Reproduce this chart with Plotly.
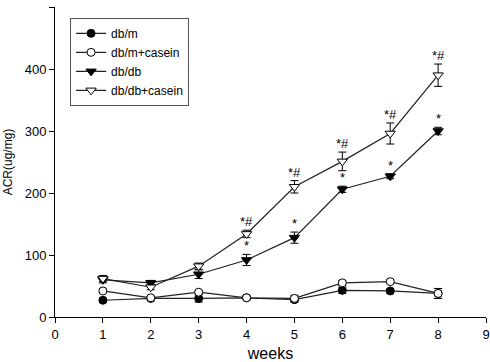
import plotly.graph_objects as go

weeks = [1, 2, 3, 4, 5, 6, 7, 8]
dbm = [27, 30, 30, 31, 28, 43, 42, 38]
dbm_err = [3, 2, 6, 3, 4, 5, 3, 8]
dbm_casein = [42, 31, 40, 31, 30, 55, 57, 38]
dbm_casein_err = [3, 2, 3, 2, 5, 4, 3, 8]
dbdb = [60, 55, 69, 92, 128, 206, 227, 300]
dbdb_err = [5, 4, 7, 9, 9, 5, 4, 6]
dbdb_casein = [62, 48, 82, 134, 210, 251, 296, 390]
dbdb_casein_err = [5, 4, 5, 6, 10, 15, 17, 18]
sig_dbdb = ["", "", "", "*", "*", "*", "*", "*"]
sig_casein = ["", "", "", "*#", "*#", "*#", "*#", "*#"]

FONT = "Liberation Sans, Arial"
fig = go.Figure()

def add(name, y, err, symbol, fill):
    fig.add_trace(go.Scatter(
        x=weeks, y=y, name=name, mode="lines+markers",
        line=dict(color="#222", width=1.2),
        marker=dict(symbol=symbol, size=9 if "triangle" in symbol else 8,
                    color=fill, line=dict(color="black", width=1)),
        error_y=dict(type="data", array=err, color="black", thickness=1, width=4),
    ))

add("db/m", dbm, dbm_err, "circle", "black")
add("db/m+casein", dbm_casein, dbm_casein_err, "circle", "white")
add("db/db", dbdb, dbdb_err, "triangle-down", "black")
add("db/db+casein", dbdb_casein, dbdb_casein_err, "triangle-down", "white")

for xv, yv, ev, s in zip(weeks, dbdb, dbdb_err, sig_dbdb):
    if s:
        fig.add_annotation(x=xv, y=yv + ev, text=s, showarrow=False, yanchor="bottom",
                           yshift=-1, font=dict(size=13, color="black", family=FONT))
for xv, yv, ev, s in zip(weeks, dbdb_casein, dbdb_casein_err, sig_casein):
    if s:
        fig.add_annotation(x=xv, y=yv + ev, text=s, showarrow=False, yanchor="bottom",
                           yshift=-1, font=dict(size=13, color="black", family=FONT))

fig.update_layout(
    width=490, height=362,
    margin=dict(l=55, r=4, t=7, b=45),
    paper_bgcolor="white", plot_bgcolor="white",
    font=dict(family=FONT, color="black", size=13),
    showlegend=True,
    legend=dict(x=0.035, y=0.965, xanchor="left", yanchor="top",
                bordercolor="#555", borderwidth=1, bgcolor="white",
                font=dict(size=12), tracegroupgap=0, itemwidth=30),
    xaxis=dict(range=[0, 9], tickvals=list(range(10)), showline=True, linecolor="black",
               linewidth=1, ticks="outside", ticklen=5, tickcolor="black",
               showgrid=False, zeroline=False, automargin=False,
               title=dict(text="weeks", font=dict(size=16), standoff=8)),
    yaxis=dict(range=[0, 500], tickvals=[0, 100, 200, 300, 400, 500], showline=True,
               linecolor="black", linewidth=1, ticks="outside", ticklen=5, tickcolor="black",
               showgrid=False, zeroline=False, automargin=False,
               title=dict(text="ACR(ug/mg)", font=dict(size=12), standoff=9)),
)

fig.write_html("out.html", config={"displayModeBar": False},
               post_script="document.body.style.margin='0';document.body.style.overflow='hidden';")
